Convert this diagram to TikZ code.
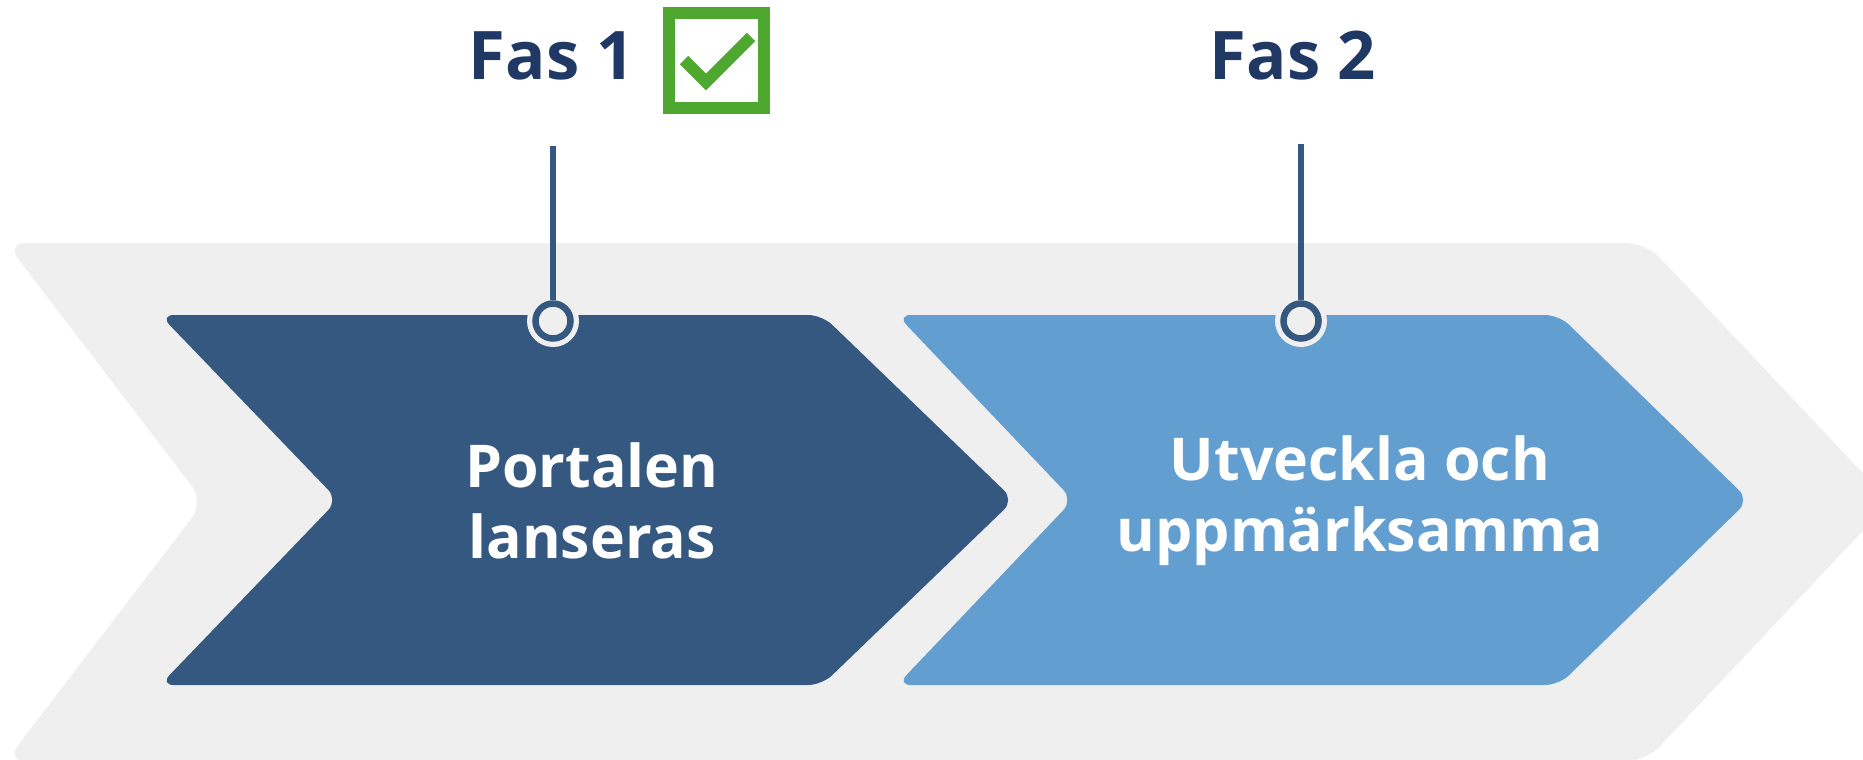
\documentclass[tikz,border=0pt]{standalone}
\usepackage{fontspec}
\setmainfont{Open Sans}
\usepackage{xcolor}
\usepackage{tikz}
\definecolor{navy}{RGB}{31,56,100}
\definecolor{darkblue}{RGB}{52,88,128}
\definecolor{lightblue}{RGB}{99,158,208}
\definecolor{bggray}{RGB}{239,239,239}
\definecolor{green}{RGB}{78,167,46}
\usetikzlibrary{calc}

\begin{document}
\begin{tikzpicture}[x=1pt,y=-1pt,
    phase/.style={font=\fontsize{67}{70}\selectfont\bfseries, text=navy, anchor=base},
    chevtext/.style={font=\fontsize{59}{71}\selectfont\bfseries, text=white, align=center},
    pin/.style={circle, draw=darkblue, line width=6.5pt, fill=bggray, minimum size=35pt, inner sep=0pt}]
    \useasboundingbox (0,0) rectangle (1863,760);
    \clip (0,0) rectangle (1863,760);
    % Background arrow - runs off the right edge
    \fill[bggray, rounded corners=20pt] (6,243) -- (1646,243) -- (1890,502) -- (1646,761) -- (6,761) -- (204,502) -- cycle;
    % Phase arrows
    \fill[darkblue, rounded corners=14pt] (160,315) -- (822,315) -- (1014,500) -- (822,685) -- (160,685) -- (338,500) -- cycle;
    \fill[lightblue, rounded corners=14pt] (897,315) -- (1559,315) -- (1749,500) -- (1559,685) -- (897,685) -- (1073,500) -- cycle;
    \node[chevtext] (text1) at (592,501) {Portalen\\lanseras};
    \node[chevtext] (text2) at (1360,501) {Utveckla och\\uppmärksamma};
    % Phase labels with pins
    \foreach \x/\lx/\y/\n in {553/552/146/1, 1301/1293/144/2} {
        \node[phase] (fas\n) at (\lx,80) {Fas \n};
        \fill[bggray] (\x,321) circle (26pt);
        \node[pin] (pin\n) at (\x,321) {};
        \coordinate (top\n) at (\x,\y);
        \draw[darkblue, line width=6pt] (top\n) -- (pin\n);
    }
    % Done mark next to Fas 1
    \node[draw=green, line width=12pt, minimum size=95pt, inner sep=0pt] (done) at (716.5,60.5) {};
    \draw[green, line width=12pt] (684,60) -- (706,82) -- (751,37);
\end{tikzpicture}
\end{document}
